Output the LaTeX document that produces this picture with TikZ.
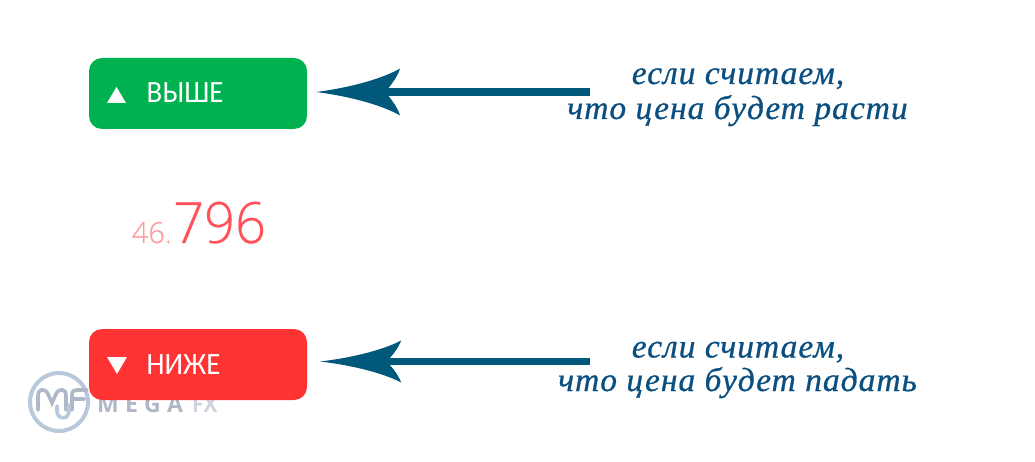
\documentclass[tikz,border=0pt]{standalone}
\usepackage{fontspec}
\usetikzlibrary{arrows.meta}
\setmainfont{Open Sans}
\newfontfamily\hand[LetterSpace=3,FakeBold=0.7]{Liberation Serif Italic}
\newfontfamily\btnfont{Carlito}
\newfontfamily\numfont[FakeBold=0.35]{Open Sans Light}
\newfontfamily\logofont{Open Sans}
\definecolor{upgreen}{HTML}{00B14F}
\definecolor{downred}{HTML}{FF3333}
\definecolor{arrowblue}{HTML}{00587A}
\definecolor{handblue}{HTML}{0B4F80}
\definecolor{numred}{HTML}{FF5157}
\definecolor{numpink}{HTML}{FF9A9E}
\definecolor{logoring}{HTML}{B9C9DC}
\definecolor{logoletter}{HTML}{AEB8C8}
\definecolor{logotext}{HTML}{B0B7C6}
\definecolor{logofade}{HTML}{CDD2DC}
% swept-back arrow head with slightly hollow flanks
\newdimen\barbL
\newdimen\barbW
\pgfdeclarearrow{
  name=Barb,
  parameters={\the\pgfarrowlength,\the\pgfarrowwidth},
  setup code={
    \barbL=\pgfarrowlength
    \barbW=\pgfarrowwidth
    \pgfarrowssettipend{0pt}
    \pgfarrowssetlineend{-0.75\barbL}
    \pgfarrowssetbackend{-\barbL}
    \pgfarrowssetvisualbackend{-0.82\barbL}
    \pgfarrowshullpoint{0pt}{0pt}
    \pgfarrowshullpoint{-\barbL}{0.5\barbW}
    \pgfarrowshullpoint{-\barbL}{-0.5\barbW}
    \pgfarrowssavethe\barbL
    \pgfarrowssavethe\barbW
  },
  drawing code={
    \pgfpathmoveto{\pgfpoint{0pt}{0pt}}
    \pgfpathcurveto{\pgfpoint{-0.35\barbL}{0.08\barbW}}{\pgfpoint{-0.75\barbL}{0.25\barbW}}{\pgfpoint{-\barbL}{0.5\barbW}}
    \pgfpathcurveto{\pgfpoint{-0.96\barbL}{0.3\barbW}}{\pgfpoint{-0.88\barbL}{0.12\barbW}}{\pgfpoint{-0.82\barbL}{0pt}}
    \pgfpathcurveto{\pgfpoint{-0.88\barbL}{-0.12\barbW}}{\pgfpoint{-0.96\barbL}{-0.3\barbW}}{\pgfpoint{-\barbL}{-0.5\barbW}}
    \pgfpathcurveto{\pgfpoint{-0.75\barbL}{-0.25\barbW}}{\pgfpoint{-0.35\barbL}{-0.08\barbW}}{\pgfpoint{0pt}{0pt}}
    \pgfpathclose
    \pgfusepathqfill
  },
  defaults={length=84pt,width=47pt}
}
\tikzset{
  tradebtn/.style={minimum width=218pt,minimum height=71pt,rounded corners=13pt,inner sep=0pt,draw=none},
  btnlabel/.style={text=white,inner sep=0pt,font=\btnfont\fontsize{31}{31}\selectfont},
  note/.style={anchor=base,text=handblue,inner sep=0pt,font=\hand\fontsize{33.5}{33.5}\selectfont},
  pointer/.style={draw=arrowblue,fill=arrowblue,line width=7.5pt},
  glyph/.style={fill=white},
  logostroke/.style={draw=logoletter,line width=3.6pt,line cap=round},
  logoword/.style={anchor=base west,inner sep=0pt,font=\logofont\bfseries\fontsize{23}{23}\selectfont},
}
\begin{document}
\begin{tikzpicture}[x=1pt,y=-1pt]
\useasboundingbox (0,0) rectangle (1035,462);
\fill[white] (0,0) rectangle (1035,462);

% watermark sits beneath the lower button
\draw[logoring,line width=4pt] (59,402) circle (29);
\draw[logostroke] (38,410) -- (38,396) .. controls (38,388) and (45,388) .. (48,394) -- (52,403) -- (56,394) .. controls (59,388) and (66,388) .. (66,396) -- (66,410);
\draw[logostroke] (72,410) -- (72,395) .. controls (72,391) and (74,390) .. (77,390) -- (87,390);
\draw[logostroke] (72,399) -- (84,399);
\draw[logostroke,draw=logoring] (57,406) -- (57,411) .. controls (57,420) and (69,420) .. (69,411) -- (69,405);
\node[logoword,text=logotext] (logoa) at (97,412) {\addfontfeature{LetterSpace=27}MEGA};
\node[logoword,text=logofade] (logob) at (192,412) {\scalebox{0.9}[1]{FX}};

% trade buttons
\node[tradebtn,fill=upgreen] (up) at (198,93.5) {};
\node[tradebtn,fill=downred] (down) at (198,364.5) {};
\fill[glyph] (107,103) -- (126,103) -- (116.5,87) -- cycle;
\fill[glyph] (107,357) -- (127,357) -- (117,374) -- cycle;
\node[btnlabel] (uplbl) at (185,93) {\scalebox{0.93}[1]{ВЫШЕ}};
\node[btnlabel] (downlbl) at (183.5,365) {\scalebox{0.93}[1]{НИЖЕ}};

% quote
\node[anchor=base east,inner sep=0pt,text=numpink,font=\numfont\fontsize{29}{29}\selectfont] (quoteA) at (172,243) {46.};
\node[anchor=base west,inner sep=0pt,text=numred,font=\numfont\fontsize{57}{57}\selectfont] (quoteB) at (173,243) {\scalebox{0.95}[1]{796}};

% captions
\node[note] (n1a) at (738,84) {если считаем,};
\node[note] (n1b) at (737.5,119) {что цена будет расти};
\node[note] (n2a) at (738,357.5) {если считаем,};
\node[note] (n2b) at (737.5,391) {что цена будет падать};

% pointers from captions to buttons
\coordinate (t1) at (590,92);
\coordinate (t2) at (590,361.5);
\draw[pointer,-{Barb[length=84pt,width=47pt]},shorten >=9pt] (t1) -- (t1 -| up.east);
\draw[pointer,-{Barb[length=81pt,width=42pt]},shorten >=13pt] (t2) -- (t2 -| down.east);
\end{tikzpicture}
\end{document}
